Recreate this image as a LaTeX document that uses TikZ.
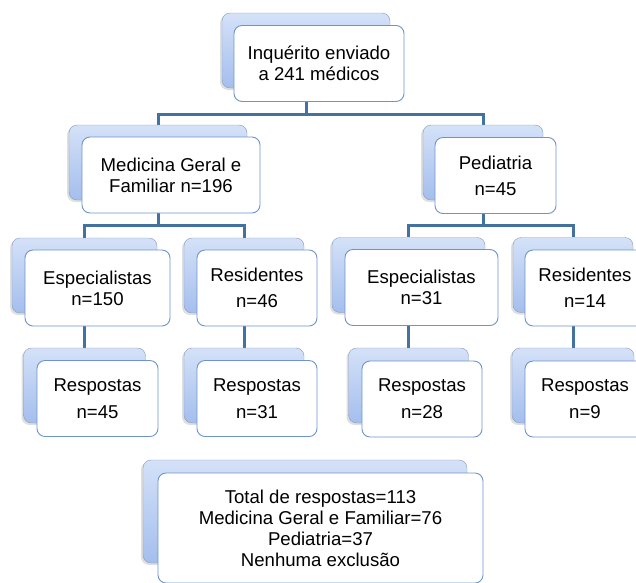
\documentclass[tikz,border=0pt]{standalone}
\usepackage{fontspec}
\setmainfont{Liberation Sans}
\usetikzlibrary{shadows}
\definecolor{lnk}{RGB}{68,114,160}
\definecolor{bk1}{RGB}{212,225,248}
\definecolor{bk2}{RGB}{164,190,237}
\definecolor{bkd}{RGB}{138,154,184}
\definecolor{fr}{RGB}{110,148,203}
\pgfdeclarelayer{bg}
\pgfsetlayers{bg,main}

\begin{document}
\begin{tikzpicture}[x=1pt,y=-1pt,
    back/.style={rectangle,rounded corners=8pt,draw=bkd,top color=bk1,
                 bottom color=bk2,minimum height=75pt,inner sep=0pt,
                 drop shadow={shadow xshift=-2pt,shadow yshift=-2pt,opacity=0.25}},
    front/.style={rectangle,rounded corners=8pt,draw=fr,line width=0.9pt,
                  fill=white,minimum height=76pt,inner sep=2pt,align=center,
                  font=\fontsize{18.6}{21}\selectfont},
    link/.style={lnk,line width=3pt}]
    \useasboundingbox (0,0) rectangle (636,582);
    % level 1
    \node[back,minimum width=168pt]  (top)  at (306,50.5) {};
    \node[front,minimum width=170pt] (topf) at (319,63.5) {Inquérito enviado\\a 241 médicos};
    % level 2
    \node[back,minimum width=178pt]  (med)  at (158,162.5) {};
    \node[front,minimum width=178pt] (medf) at (171,175)   {Medicina Geral e\\Familiar n=196};
    \node[back,minimum width=120pt]  (ped)  at (483,162.5) {};
    \node[front,minimum width=121pt] (pedf) at (495.5,175.5) {Pediatria\\[5pt]n=45};
    % level 3
    \node[back,minimum width=145pt]  (espL)  at (84.5,275.5) {};
    \node[front,minimum width=145pt] (espLf) at (97.5,288)   {Especialistas\\n=150};
    \node[back,minimum width=120pt]  (resL)  at (244,275.5)  {};
    \node[front,minimum width=120pt] (resLf) at (257,288)    {Residentes\\[5pt]n=46};
    \node[back,minimum width=153pt]  (espR)  at (408.5,275)  {};
    \node[front,minimum width=153pt] (espRf) at (421.5,287.5) {Especialistas\\n=31};
    \node[back,minimum width=120pt]  (resR)  at (573,275)    {};
    \node[front,minimum width=120pt] (resRf) at (585,288)    {Residentes\\[5pt]n=14};
    % level 4
    \node[back,minimum width=122pt]  (rspA)  at (84.5,385.5) {};
    \node[front,minimum width=121pt] (rspAf) at (97.5,398.5) {Respostas\\[6pt]n=45};
    \node[back,minimum width=120pt]  (rspB)  at (244,385.5)  {};
    \node[front,minimum width=120pt] (rspBf) at (257,398.5)  {Respostas\\[6pt]n=31};
    \node[back,minimum width=120pt]  (rspC)  at (408.5,385.5) {};
    \node[front,minimum width=120pt] (rspCf) at (422,399)    {Respostas\\[6pt]n=28};
    \node[back,minimum width=122pt]  (rspD)  at (573,385.5)  {};
    \node[front,minimum width=120pt] (rspDf) at (585,399)    {Respostas\\[6pt]n=9};
    % summary
    \node[back,minimum width=324pt,minimum height=103pt]  (tot)  at (305,511.5) {};
    \node[front,minimum width=325pt,minimum height=110pt] (totf) at (320.5,528)
      {Total de respostas=113\\Medicina Geral e Familiar=76\\Pediatria=37\\Nenhuma exclusão};
    % connectors
    \begin{pgfonlayer}{bg}
    \draw[link] (top.south) -- ++(0,26) -| (med.north);
    \draw[link] (top.south) -- ++(0,26) -| (ped.north);
    \draw[link] (med.south) -- ++(0,25) -| (espL.north);
    \draw[link] (med.south) -- ++(0,25) -| (resL.north);
    \draw[link] (ped.south) -- ++(0,25) -| (espR.north);
    \draw[link] (ped.south) -- ++(0,25) -| (resR.north);
    \draw[link] (espL.south) -- (rspA.north);
    \draw[link] (resL.south) -- (rspB.north);
    \draw[link] (espR.south) -- (rspC.north);
    \draw[link] (resR.south) -- (rspD.north);
    \end{pgfonlayer}
\end{tikzpicture}
\end{document}
